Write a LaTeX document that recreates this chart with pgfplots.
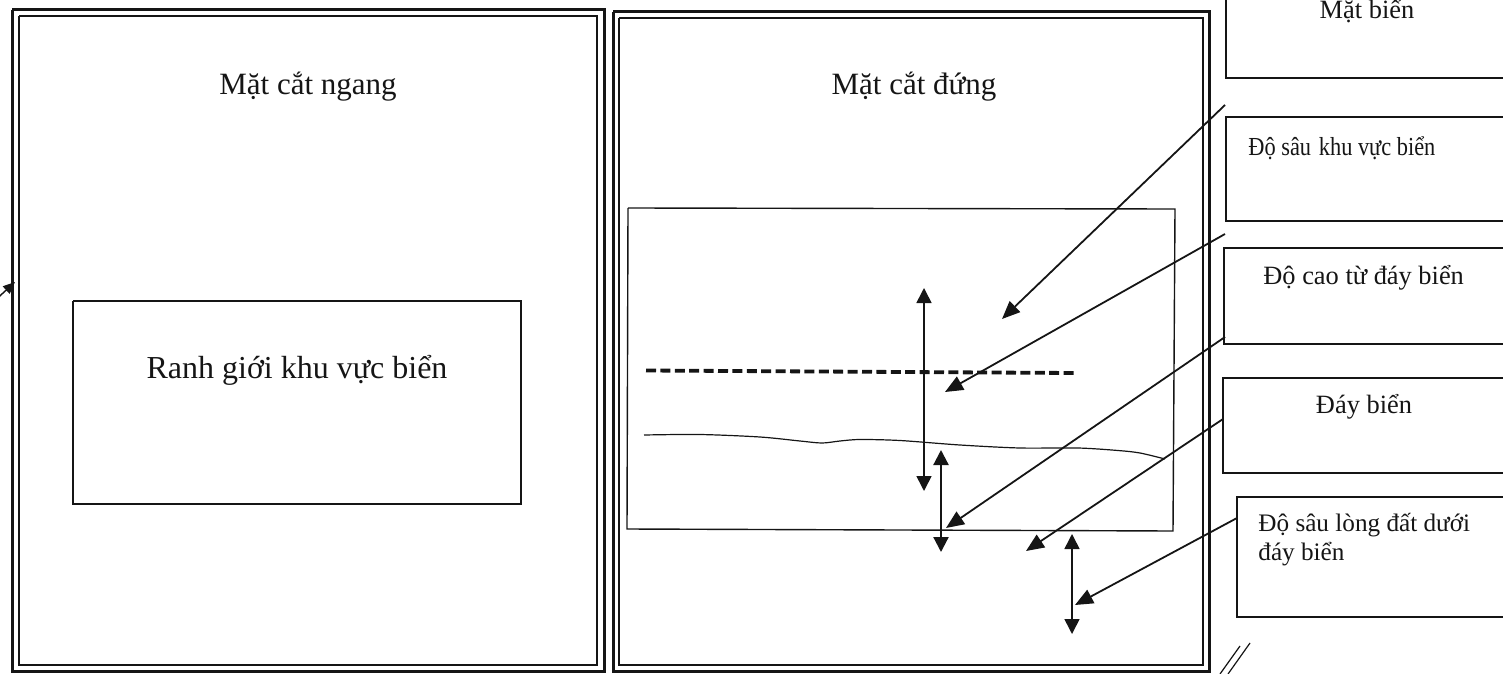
\documentclass[border=0pt]{standalone}
\usepackage{pgfplots}
\pgfplotsset{compat=1.18}
\usepackage{fontspec}
\setmainfont{Liberation Serif}
\newfontfamily\condfont[FakeStretch=0.86]{Liberation Serif}
\usetikzlibrary{arrows.meta}
\definecolor{ink}{HTML}{151515}
\begin{document}
\begin{tikzpicture}
\begin{axis}[name=ax, width=751.5bp, height=337bp, scale only axis,
  xmin=0, xmax=1503, ymin=0, ymax=674, y dir=reverse, hide axis, clip=true]
% invisible extent
\addplot[draw=none] coordinates {(0,0) (1503,674)};
% left panel double frame
\addplot[ink, line width=1.5bp] coordinates {(12,10) (604,10) (604,671) (12,671) (12,10)};
\addplot[ink, line width=0.9bp] coordinates {(19,16) (597,16) (597,665) (19,665) (19,16)};
% left inner box
\addplot[ink, line width=0.8bp] coordinates {(73,301) (521,301) (521,504) (73,504) (73,301)};
% middle panel double frame
\addplot[ink, line width=1.5bp] coordinates {(613,12) (1209,12) (1209,671) (613,671) (613,12)};
\addplot[ink, line width=0.9bp] coordinates {(619,18) (1203,18) (1203,665) (619,665) (619,18)};
% middle inner box
\addplot[ink, line width=0.7bp] coordinates {(628,208) (1175,209) (1173,531) (627,529) (628,208)};
% dashed sea level line
\addplot[ink, line width=1.9bp, dash pattern=on 5bp off 2.2bp] coordinates {(646,370.5) (1075,373)};
% sea floor (wavy)
\addplot[ink, line width=0.6bp, smooth] coordinates {(644,435) (700,434.5) (760,437) (800,441) (822,443) (840,441) (860,439.5) (900,440.5) (960,445) (1020,448) (1078,448) (1118,450.5) (1140,453) (1165,459)};
% double arrows
\addplot[ink, line width=0.8bp, {Triangle[length=7.5bp,width=7.5bp]}-{Triangle[length=7.5bp,width=7.5bp]}] coordinates {(924,288) (924,491)};
\addplot[ink, line width=1.1bp, {Triangle[length=7.5bp,width=7.5bp]}-{Triangle[length=7.5bp,width=7.5bp]}] coordinates {(941,450) (941,552)};
\addplot[ink, line width=0.8bp, {Triangle[length=7.5bp,width=7.5bp]}-{Triangle[length=7.5bp,width=7.5bp]}] coordinates {(1072,534) (1072,634)};
% leader arrows
\addplot[ink, line width=0.9bp, -{Triangle[length=9bp,width=7.5bp]}] coordinates {(1225,105) (1002,319)};
\addplot[ink, line width=0.9bp, -{Triangle[length=9bp,width=7.5bp]}] coordinates {(1225,234) (945,392)};
\addplot[ink, line width=0.9bp, -{Triangle[length=9bp,width=7.5bp]}] coordinates {(1225,337) (946,528)};
\addplot[ink, line width=0.9bp, -{Triangle[length=9bp,width=7.5bp]}] coordinates {(1223,419) (1026,551)};
\addplot[ink, line width=0.9bp, -{Triangle[length=9bp,width=7.5bp]}] coordinates {(1237,518) (1075,605)};
% small arrowhead at far left
\addplot[ink, line width=0.7bp, -{Triangle[length=6bp,width=5bp]}] coordinates {(-10,305) (15,282)};
% right label boxes
\addplot[ink, line width=1.1bp] coordinates {(1530,-5) (1226,-5) (1226,78) (1530,78)};
\addplot[ink, line width=1.1bp] coordinates {(1530,117) (1226,117) (1226,221) (1530,221)};
\addplot[ink, line width=1.1bp] coordinates {(1530,248) (1224,248) (1224,344) (1530,344)};
\addplot[ink, line width=1.1bp] coordinates {(1530,378) (1223,378) (1223,473) (1530,473)};
\addplot[ink, line width=1.1bp] coordinates {(1530,497) (1237,497) (1237,617) (1530,617)};
% stray pen marks
\addplot[ink, line width=0.6bp] coordinates {(1220,674) (1240,646)};
\addplot[ink, line width=0.6bp] coordinates {(1228,674) (1250,643)};
% texts
\node[anchor=base, text=ink, font=\fontsize{15.5bp}{18bp}\selectfont] at (axis cs:308,94) {Mặt cắt ngang};
\node[anchor=base, text=ink, font=\fontsize{15.5bp}{18bp}\selectfont] at (axis cs:914,94) {Mặt cắt đứng};
\node[anchor=base, text=ink, font=\fontsize{16bp}{18bp}\selectfont] at (axis cs:297,378) {Ranh giới khu vực biển};
\node[anchor=base, text=ink, font=\fontsize{13.2bp}{15bp}\selectfont] at (axis cs:1367,19) {Mặt biển};
\node[anchor=base west, inner sep=0pt, text=ink, font=\fontsize{13bp}{15bp}\condfont] at (axis cs:1248,155) {Độ sâu\hspace{0.3em}khu vực biển};
\node[anchor=base west, inner sep=0pt, text=ink, font=\fontsize{13.2bp}{15bp}\selectfont] at (axis cs:1263,284) {Độ cao từ đáy biển};
\node[anchor=base, text=ink, font=\fontsize{13.2bp}{15bp}\selectfont] at (axis cs:1364,413) {Đáy biển};
\node[anchor=base west, inner sep=0pt, text=ink, font=\fontsize{12.6bp}{15bp}\selectfont] at (axis cs:1258,531) {Độ sâu lòng đất dưới};
\node[anchor=base west, inner sep=0pt, text=ink, font=\fontsize{12.6bp}{15bp}\selectfont] at (axis cs:1258,560) {đáy biển};
\end{axis}
\pgfresetboundingbox
\useasboundingbox (ax.south west) rectangle (ax.north east);
\end{tikzpicture}
\end{document}
